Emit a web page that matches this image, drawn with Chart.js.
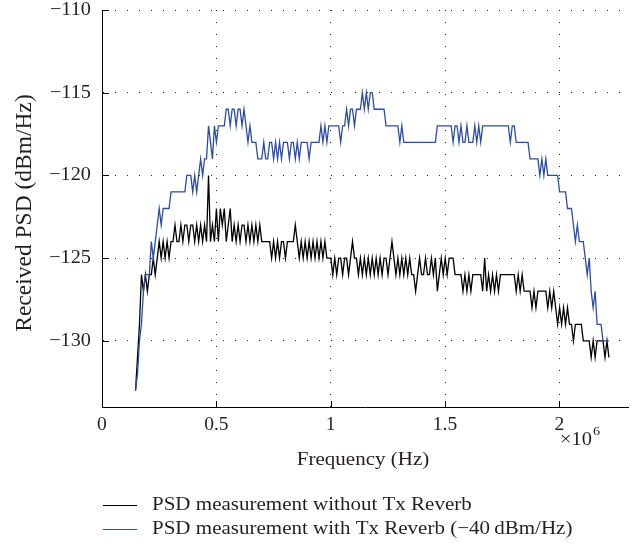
<!DOCTYPE html>
<html lang="en">
<head>
    <meta charset="UTF-8" />
    <title>Received PSD</title>
    <script src="https://cdn.jsdelivr.net/npm/chart.js"></script>
    <style>
        html, body { margin: 0; padding: 0; background: #fff; }
        #wrap { width: 640px; height: 548px; }
    </style>
</head>
<body>
    <div id="wrap"><canvas id="psdChart" width="640" height="548"></canvas></div>

    <script>
        // tone grid (ADSL2+ tones, every 2nd tone)
        const firstToneHz = 146625;
        const toneStepHz = 8625;

        const xTicks = [0, 500000, 1000000, 1500000, 2000000];
        const xTickLabels = ['0', '0.5', '1', '1.5', '2'];
        const yTicks = [-130, -125, -120, -115, -110];
        const yTickLabels = ['\u2212130', '\u2212125', '\u2212120', '\u2212115', '\u2212110'];

        const seriesLabels = [
            'PSD measurement without Tx Reverb',
            'PSD measurement with Tx Reverb (\u221240\u2009dBm/Hz)'
        ];

        // dBm/Hz
        const psdNoReverb = [
            -133, -131, -129, -126, -127, -126, -127, -126, -126, -125,
            -126, -125, -124, -125, -124, -125, -124, -125, -124, -124,
            -123, -124, -124, -123, -124, -123, -123, -124, -123, -123,
            -124, -123, -124, -123, -124, -123, -124, -120, -124, -123,
            -124, -122, -124, -122, -123, -122, -124, -123, -122, -124,
            -123, -124, -123, -124, -123, -123, -124, -123, -124, -123,
            -124, -123, -124, -123, -124, -124, -124, -124, -124, -125,
            -124, -125, -124, -125, -124, -124, -125, -124, -124, -124,
            -124, -123, -124, -125, -124, -125, -124, -125, -124, -125,
            -124, -125, -124, -125, -124, -125, -124, -125, -125, -125,
            -126, -125, -126, -125, -125, -126, -125, -125, -126, -125,
            -124, -125, -125, -126, -125, -126, -125, -126, -125, -126,
            -125, -126, -125, -126, -125, -126, -125, -125, -126, -125,
            -124, -125, -126, -125, -126, -125, -126, -125, -126, -125,
            -126, -126, -127, -126, -125, -126, -126, -125, -126, -126,
            -125, -126, -125, -127, -126, -125, -126, -125, -126, -125,
            -125, -125, -126, -126, -126, -126, -127, -126, -127, -126,
            -127, -126, -126, -126, -126, -126, -127, -125, -127, -126,
            -127, -126, -127, -126, -127, -126, -126, -126, -126, -126,
            -126, -126, -126, -127, -126, -127, -126, -127, -127, -127,
            -127, -128, -127, -128, -127, -127, -127, -127, -127, -128,
            -127, -128, -127, -128, -129, -128, -129, -128, -129, -128,
            -129, -129, -130, -129, -129, -129, -129, -130, -130, -130,
            -130, -131, -130, -131, -130, -130, -130, -130, -131, -130, -131
        ];

        const psdReverb = [
            -133, -132, -130, -129, -127, -126, -126, -126, -124, -125,
            -124, -123, -122, -123, -122, -122, -122, -122, -121, -121,
            -121, -121, -121, -121, -121, -121, -120, -120, -120, -121,
            -120, -121, -120, -119, -120, -119, -119, -117, -118, -119,
            -117, -118, -117, -117, -117, -117, -116, -116, -117, -116,
            -116, -117, -116, -116, -117, -116, -117, -118, -117, -118,
            -118, -118, -119, -119, -119, -118, -119, -119, -118, -118,
            -119, -118, -119, -118, -119, -118, -118, -118, -119, -118,
            -118, -119, -118, -119, -118, -118, -118, -118, -119, -118,
            -118, -118, -118, -118, -117, -118, -117, -118, -117, -117,
            -117, -117, -117, -117, -118, -117, -117, -116, -117, -116,
            -116, -117, -116, -116, -116, -115, -116, -115, -116, -115,
            -115, -116, -116, -116, -116, -116, -116, -117, -117, -117,
            -117, -117, -117, -117, -118, -117, -118, -118, -118, -118,
            -118, -118, -118, -118, -118, -118, -118, -118, -118, -118,
            -118, -118, -118, -117, -117, -117, -117, -117, -117, -117,
            -117, -118, -117, -117, -118, -117, -118, -118, -117, -118,
            -118, -118, -117, -118, -117, -118, -117, -117, -117, -117,
            -117, -117, -117, -117, -117, -117, -117, -117, -117, -117,
            -118, -117, -117, -118, -118, -118, -118, -118, -118, -118,
            -119, -119, -119, -119, -119, -120, -119, -120, -119, -120,
            -120, -120, -120, -120, -120, -121, -121, -121, -121, -122,
            -122, -122, -123, -124, -123, -124, -124, -124, -125, -126,
            -125, -127, -128, -127, -129, -129, -129, -130, -130, -130, -130
        ];

        const FONT = "'Liberation Serif', 'Times New Roman', serif";
        const TEXT_COLOR = '#231f20';
        const BLUE = '#2c4ca8';

        const toPoints = arr => arr.map((v, i) => ({ x: firstToneHz + i * toneStepHz, y: v }));

        // text with a bit of horizontal stretch, the source figure's font is wider than Times
        function wideText(ctx, txt, x, y, size, align, sx) {
            ctx.save();
            ctx.font = size + 'px ' + FONT;
            ctx.textAlign = align;
            ctx.translate(x, y);
            ctx.scale(sx, 1);
            ctx.fillText(txt, 0, 0);
            const w = ctx.measureText(txt).width * sx;
            ctx.restore();
            return w;
        }

        // MATLAB style: inward ticks, tick labels, axis titles, exponent and legend
        const decorPlugin = {
            id: 'decor',
            afterDraw(chart) {
                const { ctx, chartArea: a, scales: { x, y } } = chart;
                ctx.save();
                ctx.strokeStyle = '#000';
                ctx.lineWidth = 1;
                ctx.beginPath();
                xTicks.forEach(v => {
                    const px = Math.round(x.getPixelForValue(v)) + 0.5;
                    ctx.moveTo(px, a.bottom);
                    ctx.lineTo(px, a.bottom - 6);
                });
                yTicks.forEach(v => {
                    const py = Math.round(y.getPixelForValue(v)) + 0.5;
                    ctx.moveTo(a.left, py);
                    ctx.lineTo(a.left + 7, py);
                });
                ctx.stroke();

                ctx.fillStyle = TEXT_COLOR;
                ctx.textBaseline = 'middle';

                xTicks.forEach((v, i) => {
                    wideText(ctx, xTickLabels[i], x.getPixelForValue(v), a.bottom + 18, 18.6, 'center', 1.05);
                });
                yTicks.forEach((v, i) => {
                    wideText(ctx, yTickLabels[i], a.left - 11, y.getPixelForValue(v), 18.6, 'right', 1.09);
                });

                wideText(ctx, 'Frequency (Hz)', 363, 460, 18.6, 'center', 1.13);

                ctx.save();
                ctx.font = '23.5px ' + FONT;
                ctx.textAlign = 'center';
                ctx.translate(25, 213);
                ctx.rotate(-Math.PI / 2);
                ctx.fillText('Received PSD (dBm/Hz)', 0, 0);
                ctx.restore();

                const wExp = wideText(ctx, '\u00d710', 560, 440, 18.6, 'left', 1.1);
                wideText(ctx, '6', 560 + wExp + 1, 432, 13, 'left', 1.1);

                // legend
                const rows = [
                    { color: '#000', y: 505 },
                    { color: BLUE, y: 529 }
                ];
                rows.forEach((r, i) => {
                    ctx.strokeStyle = r.color;
                    ctx.lineWidth = 1.2;
                    ctx.beginPath();
                    ctx.moveTo(103, r.y + 0.5);
                    ctx.lineTo(137, r.y + 0.5);
                    ctx.stroke();
                    wideText(ctx, seriesLabels[i], 152, r.y, 18.6, 'left', 1.13);
                });
                ctx.restore();
            }
        };

        new Chart(document.getElementById('psdChart'), {
            type: 'line',
            data: {
                datasets: [
                    {
                        label: seriesLabels[0],
                        data: toPoints(psdNoReverb),
                        borderColor: '#000',
                        borderWidth: 1.3,
                        pointRadius: 0,
                        tension: 0,
                        order: 1
                    },
                    {
                        label: seriesLabels[1],
                        data: toPoints(psdReverb),
                        borderColor: BLUE,
                        borderWidth: 1.3,
                        pointRadius: 0,
                        tension: 0,
                        order: 0
                    }
                ]
            },
            options: {
                responsive: false,
                animation: false,
                devicePixelRatio: 1,
                layout: { padding: { left: 0, right: 12, top: 10, bottom: 0 } },
                plugins: {
                    legend: { display: false },
                    tooltip: { enabled: false }
                },
                scales: {
                    x: {
                        type: 'linear',
                        min: 0,
                        max: 2300000,
                        afterBuildTicks: s => { s.ticks = xTicks.map(v => ({ value: v })); },
                        afterFit: s => { s.height = 141; },
                        ticks: { display: false },
                        grid: {
                            drawTicks: false,
                            color: c => (c.tick && c.tick.value === 0 ? 'rgba(0,0,0,0)' : '#222'),
                            lineWidth: 1
                        },
                        border: { display: true, color: '#000', width: 1, dash: [1, 11] }
                    },
                    y: {
                        min: -134,
                        max: -110,
                        afterBuildTicks: s => { s.ticks = yTicks.map(v => ({ value: v })); },
                        afterFit: s => { s.width = 102; },
                        ticks: { display: false },
                        grid: {
                            drawTicks: false,
                            color: '#222',
                            lineWidth: 1
                        },
                        border: { display: true, color: '#000', width: 1, dash: [1, 11] }
                    }
                }
            },
            plugins: [decorPlugin]
        });
    </script>
</body>
</html>
